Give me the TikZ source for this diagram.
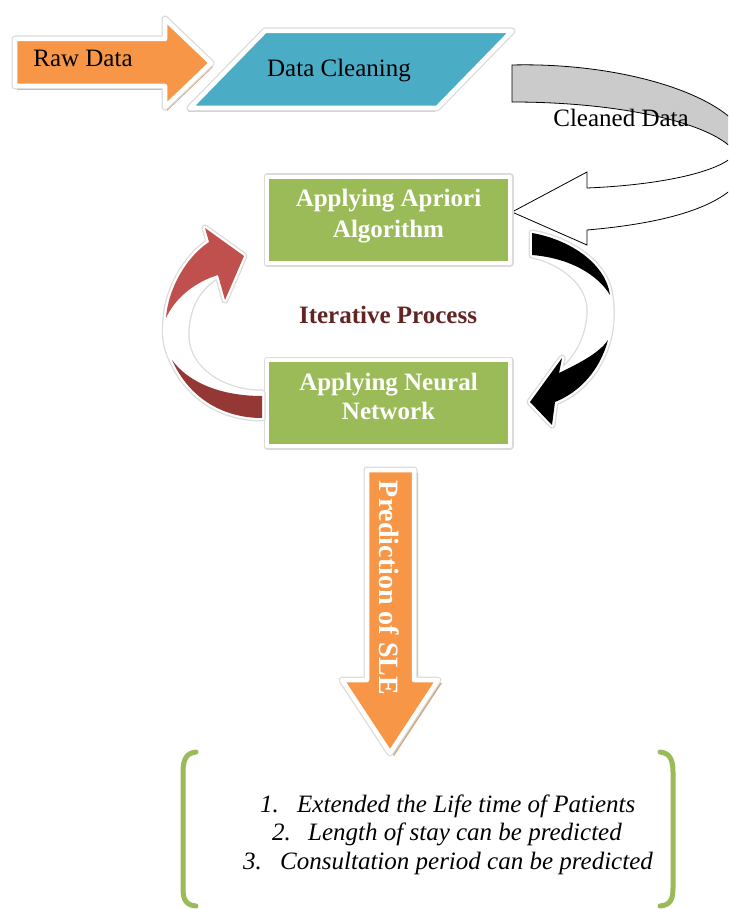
\documentclass[tikz,border=0pt]{standalone}
\usepackage{fontspec}
\setmainfont{Liberation Serif}
\definecolor{orangeA}{HTML}{F79646}
\definecolor{tealA}{HTML}{4BACC6}
\definecolor{greenA}{HTML}{9BBB59}
\definecolor{redA}{HTML}{C0504D}
\definecolor{redB}{HTML}{953735}
\definecolor{grayA}{HTML}{CBCBCB}
\definecolor{iterred}{HTML}{632523}
\definecolor{tanshadow}{HTML}{D4A67C}
\begin{document}
\begin{tikzpicture}[x=1pt,y=-1pt,
  txt/.style={inner sep=0pt, font=\fontsize{25}{30}\selectfont},
  btxt/.style={inner sep=0pt, font=\fontsize{25}{30}\selectfont\bfseries, text=white},
  itxt/.style={inner sep=0pt, anchor=base west, font=\fontsize{25}{30}\selectfont\itshape},
  rimA/.style={draw=black!14, line width=7pt, line join=round},
  rimB/.style={draw=white, line width=4.5pt, line join=round},
  softshadow/.style={fill=black!18},
  grayoutline/.style={draw=black, line width=0.8pt, line join=miter},
  redshape/.style={insert path={(262,393) .. controls (220,393) and (186,368) .. (186,335) .. controls (186,305) and (200,285) .. (218,275) -- (225,300) -- (244,256) -- (205,228) -- (209,242) .. controls (185,258) and (168,290) .. (166,318) .. controls (164,335) and (166,348) .. (172,360) .. controls (190,400) and (225,418) .. (262,418) -- cycle}},
  blackshape/.style={insert path={(532,233) .. controls (572,240) and (606,265) .. (610,295) .. controls (612,310) and (612,325) .. (608,340) .. controls (600,370) and (580,392) .. (555,402) -- (552,425) -- (530,402) -- (562,358) -- (559,373) .. controls (578,360) and (590,335) .. (590,310) .. controls (590,285) and (565,262) .. (532,255) -- cycle}},
  rawshape/.style={insert path={(15,39) -- (165,39) -- (165,19) -- (211,63) -- (165,107) -- (165,86) -- (15,86) -- cycle}},
  paralshape/.style={insert path={(265,31) -- (512,31) -- (437,108) -- (190,108) -- cycle}},
  predshape/.style={insert path={(367,470) -- (414,470) -- (414,680) -- (438,680) -- (390,753) -- (342,680) -- (367,680) -- cycle}},
  box1shape/.style={insert path={(267,177) rectangle (510,263)}},
  box2shape/.style={insert path={(267,360) rectangle (510,446)}}
]
\useasboundingbox (0,0) rectangle (728,909);
\clip (0,0) rectangle (728,909);
\fill[white] (0,0) rectangle (728,909);

% ---- Cleaned data curved arrow (gray) ----
\path[fill=grayA, grayoutline] (512,65) .. controls (630,62) and (745,100) .. (750,150) -- (736,153) .. controls (715,123) and (620,102) .. (512,102) -- cycle;
\path[fill=white, grayoutline] (750,150) .. controls (752,200) and (680,222) .. (587,230) -- (587,245) -- (512,212) -- (587,172) -- (587,188) .. controls (660,185) and (722,172) .. (736,153) -- cycle;

% ---- Raw data arrow ----
\path[fill=tanshadow, shift={(2,4)}, rawshape];
\path[rimA, rawshape];
\path[fill=orangeA, rimB, rawshape];

% ---- Data cleaning parallelogram ----
\path[softshadow, shift={(-2,4)}, paralshape];
\path[rimA, paralshape];
\path[fill=tealA, rimB, paralshape];

% ---- Green boxes ----
\path[softshadow, shift={(3,3)}, box1shape];
\path[rimA, box1shape];
\path[fill=greenA, rimB, box1shape];
\path[softshadow, shift={(3,3)}, box2shape];
\path[rimA, box2shape];
\path[fill=greenA, rimB, box2shape];

% ---- Red curved arrow ----
\path[softshadow, shift={(2,3)}, redshape];
\path[rimA, redshape];
\path[fill=white, rimB, redshape];
\fill[redA] (218,275) -- (225,300) -- (244,256) -- (205,228) -- (209,242) .. controls (185,258) and (168,290) .. (166,318) .. controls (175,298) and (195,282) .. (218,275) -- cycle;
\fill[redB] (172,360) .. controls (190,400) and (225,418) .. (262,418) -- (262,396) .. controls (220,396) and (188,382) .. (172,360) -- cycle;

% ---- Black curved arrow ----
\path[softshadow, shift={(2,3)}, blackshape];
\path[rimA, blackshape];
\path[fill=white, rimB, blackshape];
\fill[black] (532,233) .. controls (572,240) and (606,265) .. (610,295) .. controls (598,275) and (570,258) .. (532,255) -- cycle;
\fill[black] (608,340) .. controls (600,370) and (580,392) .. (555,402) -- (552,425) -- (530,402) -- (562,358) -- (559,373) .. controls (582,362) and (600,352) .. (608,340) -- cycle;

% ---- Prediction arrow ----
\path[fill=tanshadow, shift={(4,3)}, predshape];
\path[rimA, predshape];
\path[fill=orangeA, rimB, predshape];

% ---- Result bracket ----
\draw[greenA, line width=5pt, line cap=round] (196,752) .. controls (186,753) and (183,760) .. (183,772) -- (183,888) .. controls (183,900) and (186,905) .. (196,906);
\draw[greenA, line width=5pt, line cap=round] (660,752) .. controls (670,753) and (673,760) .. (673,772) -- (673,888) .. controls (673,900) and (670,905) .. (660,906);

% ---- Texts ----
\node[txt, anchor=base] (raw) at (83,67) {Raw Data};
\node[txt, anchor=base] (clean) at (339,77) {Data Cleaning};
\node[txt, anchor=base] (cleaned) at (621,127) {Cleaned Data};
\node[btxt, anchor=base] (apA) at (388.5,207) {Applying Apriori};
\node[btxt, anchor=base] (apB) at (388.5,237) {Algorithm};
\node[btxt, anchor=base] (nnA) at (388.5,390) {Applying Neural};
\node[btxt, anchor=base] (nnB) at (388.5,419) {Network};
\node[txt, anchor=base, font=\fontsize{25}{30}\selectfont\bfseries, text=iterred] (iter) at (388,323) {Iterative Process};
\node[btxt, rotate=-90, font=\fontsize{28}{32}\selectfont\bfseries] (pred) at (389,588) {Prediction of SLE};
\node[itxt] (r1n) at (260,812) {1.};
\node[itxt] (r1) at (297,812) {Extended the Life time of Patients};
\node[itxt] (r2n) at (272,840) {2.};
\node[itxt] (r2) at (308,840) {Length of stay can be predicted};
\node[itxt] (r3n) at (243,869) {3.};
\node[itxt] (r3) at (280,869) {Consultation period can be predicted};
\end{tikzpicture}
\end{document}
